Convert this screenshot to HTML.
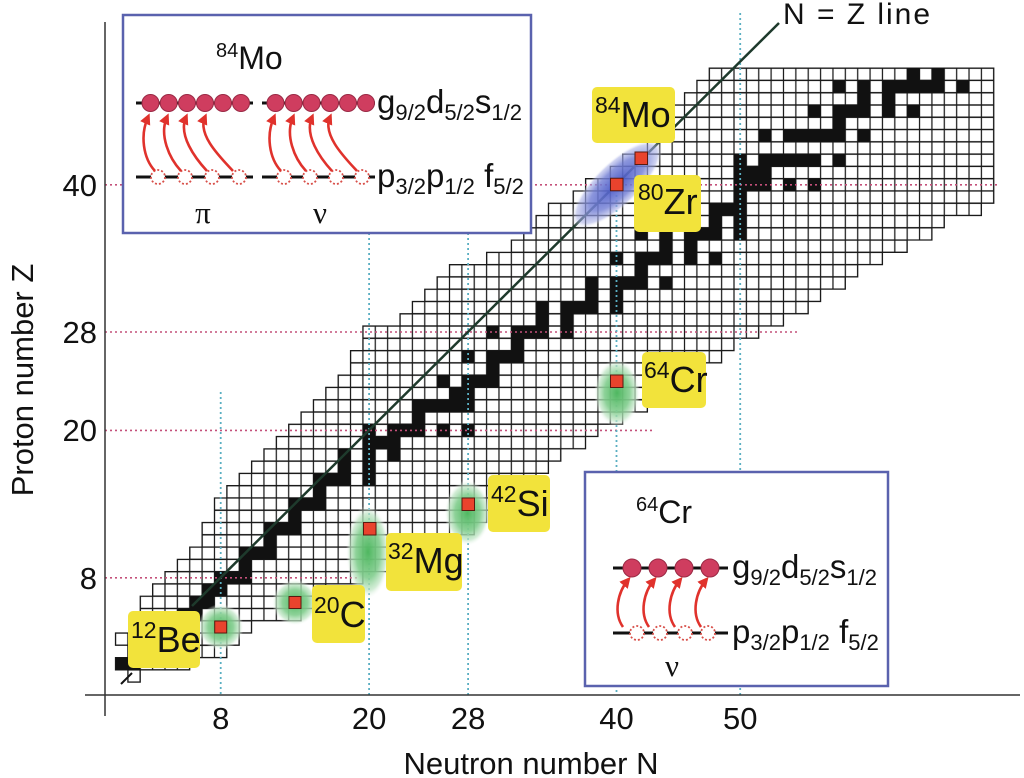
<!DOCTYPE html>
<html><head><meta charset="utf-8"><style>html,body{margin:0;padding:0;background:#fff}svg{display:block}</style></head><body>
<svg width="1024" height="778" viewBox="0 0 1024 778" xmlns="http://www.w3.org/2000/svg" font-family="'Liberation Sans', Arial, sans-serif">
<defs>
<pattern id="cell" patternUnits="userSpaceOnUse" width="1" height="1"><rect width="1" height="1" fill="#fff"/><path d="M0 0H1V1H0Z" fill="none" stroke="#1a1a1a" stroke-width="0.1"/></pattern>
<radialGradient id="gg"><stop offset="0" stop-color="#4fb760" stop-opacity="1"/><stop offset="0.55" stop-color="#84ce90" stop-opacity="0.92"/><stop offset="0.82" stop-color="#c0e5c5" stop-opacity="0.7"/><stop offset="1" stop-color="#ffffff" stop-opacity="0"/></radialGradient>
<radialGradient id="bg"><stop offset="0" stop-color="#4656c6" stop-opacity="0.95"/><stop offset="0.6" stop-color="#7884d6" stop-opacity="0.85"/><stop offset="0.88" stop-color="#a9b0e6" stop-opacity="0.55"/><stop offset="1" stop-color="#ffffff" stop-opacity="0"/></radialGradient>
<marker id="ah" markerWidth="11" markerHeight="11" refX="7" refY="5.5" orient="auto" markerUnits="userSpaceOnUse"><path d="M0 0L11 5.5L0 11Z" fill="#e0322c"/></marker>
</defs>
<rect width="1024" height="778" fill="#fff"/>

<g transform="translate(115.5,669.86) scale(12.37,12.28)">
<path fill="url(#cell)" stroke="#1a1a1a" stroke-width="0.1" d="M1 0h1v1h-1z M0 -1h6v1h-6z M1 -2h8v1h-8z M0 -3h10v1h-10z M2 -4h9v1h-9z M2 -5h13v1h-13z M2 -6h15v1h-15z M3 -7h14v1h-14z M4 -8h16v1h-16z M5 -9h18v1h-18z M6 -10h19v1h-19z M7 -11h20v1h-20z M7 -12h22v1h-22z M8 -13h22v1h-22z M8 -14h23v1h-23z M9 -15h23v1h-23z M10 -16h24v1h-24z M11 -17h24v1h-24z M12 -18h24v1h-24z M13 -19h25v1h-25z M14 -20h25v1h-25z M15 -21h26v1h-26z M16 -22h27v1h-27z M17 -23h27v1h-27z M18 -24h28v1h-28z M19 -25h28v1h-28z M19 -26h30v1h-30z M20 -27h30v1h-30z M20 -28h32v1h-32z M23 -29h31v1h-31z M24 -30h32v1h-32z M25 -31h32v1h-32z M26 -32h33v1h-33z M27 -33h33v1h-33z M30 -34h32v1h-32z M32 -35h32v1h-32z M33 -36h33v1h-33z M34 -37h33v1h-33z M35 -38h35v1h-35z M37 -39h34v1h-34z M38 -40h33v1h-33z M40 -41h31v1h-31z M41 -42h30v1h-30z M43 -43h28v1h-28z M43 -44h28v1h-28z M44 -45h27v1h-27z M45 -46h26v1h-26z M46 -47h25v1h-25z M47 -48h24v1h-24z M48 -49h23v1h-23z"/>
<path fill="#111" d="M0 -1h2v1h-2z M1 -2h2v1h-2z M3 -3h2v1h-2z M5 -4h1v1h-1z M5 -5h2v1h-2z M6 -6h2v1h-2z M7 -7h2v1h-2z M8 -8h3v1h-3z M10 -9h1v1h-1z M10 -10h3v1h-3z M12 -11h1v1h-1z M12 -12h3v1h-3z M14 -13h1v1h-1z M14 -14h3v1h-3z M16 -15h1v1h-1z M16 -16h3v1h-3z M20 -16h1v1h-1z M18 -17h1v1h-1z M20 -17h1v1h-1z M18 -18h1v1h-1z M20 -18h1v1h-1z M22 -18h1v1h-1z M20 -19h3v1h-3z M20 -20h1v1h-1z M22 -20h3v1h-3z M26 -20h1v1h-1z M28 -20h1v1h-1z M24 -21h1v1h-1z M24 -22h5v1h-5z M27 -23h2v1h-2z M26 -24h1v1h-1z M28 -24h3v1h-3z M30 -25h1v1h-1z M28 -26h1v1h-1z M30 -26h3v1h-3z M32 -27h1v1h-1z M30 -28h1v1h-1z M32 -28h3v1h-3z M36 -28h1v1h-1z M34 -29h1v1h-1z M36 -29h1v1h-1z M34 -30h1v1h-1z M36 -30h3v1h-3z M40 -30h1v1h-1z M38 -31h1v1h-1z M40 -31h1v1h-1z M38 -32h1v1h-1z M40 -32h3v1h-3z M44 -32h1v1h-1z M42 -33h1v1h-1z M40 -34h1v1h-1z M42 -34h3v1h-3z M46 -34h1v1h-1z M48 -34h1v1h-1z M44 -35h1v1h-1z M46 -35h1v1h-1z M42 -36h1v1h-1z M44 -36h1v1h-1z M46 -36h3v1h-3z M50 -36h1v1h-1z M48 -37h1v1h-1z M50 -37h1v1h-1z M46 -38h1v1h-1z M48 -38h3v1h-3z M50 -39h1v1h-1z M50 -40h3v1h-3z M54 -40h1v1h-1z M56 -40h1v1h-1z M50 -41h3v1h-3z M50 -42h1v1h-1z M52 -42h5v1h-5z M58 -42h1v1h-1z M52 -44h1v1h-1z M54 -44h5v1h-5z M60 -44h1v1h-1z M58 -45h1v1h-1z M56 -46h1v1h-1z M58 -46h3v1h-3z M62 -46h1v1h-1z M64 -46h1v1h-1z M60 -47h1v1h-1z M62 -47h1v1h-1z M58 -48h1v1h-1z M60 -48h1v1h-1z M62 -48h5v1h-5z M68 -48h1v1h-1z M64 -49h1v1h-1z M66 -49h1v1h-1z"/>
</g>
<line x1="121" y1="684" x2="132" y2="673" stroke="#111" stroke-width="2"/>

<path stroke="#c4507a" stroke-width="1.6" stroke-dasharray="2 3" fill="none" d="M105 184.8H1000 M105 332H798 M105 430.4H653 M105 577.8H360"/>
<path stroke="#5aafc2" stroke-width="1.8" stroke-dasharray="2 3" fill="none" d="M220.7 392V695 M369.1 233V695 M468.1 233V695 M616.5 190V695 M740.2 13V695"/>

<line x1="192" y1="606" x2="779" y2="23" stroke="#1e3a2c" stroke-width="2.5"/>
<text x="783" y="24" font-size="30" textLength="147" fill="#111">N = Z line</text>

<line x1="105" y1="22" x2="105" y2="716" stroke="#333" stroke-width="1.5"/>
<line x1="85" y1="695" x2="1020" y2="695" stroke="#333" stroke-width="1.5"/>
<g font-size="31" fill="#111" text-anchor="end">
<text x="97" y="196">40</text>
<text x="97" y="343">28</text>
<text x="97" y="441">20</text>
<text x="97" y="589">8</text>
</g>
<g font-size="31" fill="#111" text-anchor="middle">
<text x="220.7" y="729">8</text>
<text x="369.1" y="729">20</text>
<text x="468.1" y="729">28</text>
<text x="616.5" y="729">40</text>
<text x="740.2" y="729">50</text>
<text x="531" y="774">Neutron number N</text>
<text transform="translate(33,380) rotate(-90)">Proton number Z</text>
</g>

<circle cx="220.7" cy="627" r="23" fill="url(#gg)"/>
<circle cx="295" cy="602.5" r="23" fill="url(#gg)"/>
<ellipse cx="368" cy="552" rx="22" ry="47" fill="url(#gg)"/>
<ellipse cx="467.5" cy="513" rx="23" ry="33" fill="url(#gg)"/>
<ellipse cx="617" cy="393" rx="23" ry="34" fill="url(#gg)"/>
<ellipse cx="617" cy="184" rx="60" ry="22" fill="url(#bg)" transform="rotate(-44 617 184)"/>

<path fill="#e9432d" stroke="#5a1a10" stroke-width="1" d="M214.7 621h12v12h-12z M289 596.5h12v12h-12z M363.5 522.5h12.5v12.5h-12.5z M462 498h12.5v12.5h-12.5z M610.5 375h12.5v12.5h-12.5z M610.5 178.3h12.5v12.5h-12.5z M635 152h12.5v12.5h-12.5z"/>

<g fill="#f2e33b">
<rect x="592" y="87" width="83" height="56" rx="5"/>
<rect x="634" y="175" width="67" height="57" rx="5"/>
<rect x="642" y="352" width="64" height="56" rx="5"/>
<rect x="488" y="475" width="62" height="57" rx="5"/>
<rect x="386" y="533" width="76" height="58" rx="5"/>
<rect x="312" y="585" width="53" height="58" rx="5"/>
<rect x="128" y="611" width="72" height="57" rx="5"/>
</g>
<g fill="#111" font-size="36">
<text x="595" y="127"><tspan font-size="23" dy="-14">84</tspan><tspan dy="14">Mo</tspan></text>
<text x="638" y="214"><tspan font-size="23" dy="-14">80</tspan><tspan dy="14">Zr</tspan></text>
<text x="644" y="392"><tspan font-size="23" dy="-14">64</tspan><tspan dy="14">Cr</tspan></text>
<text x="491" y="516"><tspan font-size="23" dy="-14">42</tspan><tspan dy="14">Si</tspan></text>
<text x="388" y="573"><tspan font-size="23" dy="-14">32</tspan><tspan dy="14">Mg</tspan></text>
<text x="314" y="627"><tspan font-size="23" dy="-14">20</tspan><tspan dy="14">C</tspan></text>
<text x="131" y="652"><tspan font-size="23" dy="-14">12</tspan><tspan dy="14">Be</tspan></text>
</g>

<rect x="123" y="15" width="408" height="218" fill="#fff" stroke="#5a62ae" stroke-width="2.5"/>
<text x="216" y="69" font-size="32" fill="#111"><tspan font-size="20" dy="-12">84</tspan><tspan dy="12">Mo</tspan></text>
<path stroke="#111" stroke-width="3" d="M136 103H253 M262 103H375 M136 177H253 M262 177H375"/>
<g fill="#cf3d5f" stroke="#9a2a45" stroke-width="1">
<circle cx="150.5" cy="103" r="8.5"/><circle cx="168.7" cy="103" r="8.5"/><circle cx="187" cy="103" r="8.5"/><circle cx="205" cy="103" r="8.5"/><circle cx="223" cy="103" r="8.5"/><circle cx="241" cy="103" r="8.5"/>
<circle cx="275.5" cy="103" r="8.5"/><circle cx="293.7" cy="103" r="8.5"/><circle cx="311.6" cy="103" r="8.5"/><circle cx="330" cy="103" r="8.5"/><circle cx="348" cy="103" r="8.5"/><circle cx="366" cy="103" r="8.5"/>
</g>
<g fill="#fff" stroke="#d8504a" stroke-width="1.8" stroke-dasharray="2 2">
<circle cx="158" cy="177" r="7"/><circle cx="185" cy="177" r="7"/><circle cx="212" cy="177" r="7"/><circle cx="239" cy="177" r="7"/>
<circle cx="284" cy="177" r="7"/><circle cx="310" cy="177" r="7"/><circle cx="336" cy="177" r="7"/><circle cx="362" cy="177" r="7"/>
</g>
<g fill="none" stroke="#e0322c" stroke-width="2.6" marker-end="url(#ah)">
<path d="M155 171C143 158 140 135 148 117"/>
<path d="M181 171C169 158 159 135 167 117"/>
<path d="M207 171C195 158 178 135 186 117"/>
<path d="M233 171C221 158 197 135 205 117"/>
<path d="M281 171C269 158 266 135 274 117"/>
<path d="M306 171C294 158 285 135 293 117"/>
<path d="M332 171C320 158 304 135 312 117"/>
<path d="M357 171C345 158 322 135 330 117"/>
</g>
<g fill="#111" font-size="33">
<text x="377" y="113">g<tspan font-size="22" dy="7">9/2</tspan><tspan dy="-7">d</tspan><tspan font-size="22" dy="7">5/2</tspan><tspan dy="-7">s</tspan><tspan font-size="22" dy="7">1/2</tspan></text>
<text x="377" y="187">p<tspan font-size="22" dy="7">3/2</tspan><tspan dy="-7">p</tspan><tspan font-size="22" dy="7">1/2</tspan><tspan dy="-7"> f</tspan><tspan font-size="22" dy="7">5/2</tspan></text>
</g>
<g fill="#111" font-size="31" font-family="'Liberation Serif', serif" text-anchor="middle">
<text x="203" y="223">π</text>
<text x="320" y="223">ν</text>
</g>

<rect x="585" y="472" width="303" height="214" fill="#fff" stroke="#5a62ae" stroke-width="2.5"/>
<text x="636" y="523" font-size="32" fill="#111"><tspan font-size="20" dy="-12">64</tspan><tspan dy="12">Cr</tspan></text>
<path stroke="#111" stroke-width="3" d="M613 568H728 M613 633H728"/>
<g fill="#cf3d5f" stroke="#9a2a45" stroke-width="1">
<circle cx="632" cy="568" r="9"/><circle cx="658" cy="568" r="9"/><circle cx="684" cy="568" r="9"/><circle cx="710" cy="568" r="9"/>
</g>
<g fill="#fff" stroke="#d8504a" stroke-width="1.8" stroke-dasharray="2 2">
<circle cx="637" cy="633" r="7"/><circle cx="660" cy="633" r="7"/><circle cx="685" cy="633" r="7"/><circle cx="708" cy="633" r="7"/>
</g>
<g fill="none" stroke="#e0322c" stroke-width="2.6" marker-end="url(#ah)">
<path d="M623 627C613 613 618 592 628 580"/>
<path d="M649 627C639 613 644 592 654 580"/>
<path d="M675 627C665 613 670 592 680 580"/>
<path d="M701 627C691 613 696 592 706 580"/>
</g>
<g fill="#111" font-size="33">
<text x="732" y="578">g<tspan font-size="22" dy="7">9/2</tspan><tspan dy="-7">d</tspan><tspan font-size="22" dy="7">5/2</tspan><tspan dy="-7">s</tspan><tspan font-size="22" dy="7">1/2</tspan></text>
<text x="732" y="643">p<tspan font-size="22" dy="7">3/2</tspan><tspan dy="-7">p</tspan><tspan font-size="22" dy="7">1/2</tspan><tspan dy="-7"> f</tspan><tspan font-size="22" dy="7">5/2</tspan></text>
</g>
<text x="672" y="676" fill="#111" font-size="31" font-family="'Liberation Serif', serif" text-anchor="middle">ν</text>
</svg>
</body></html>
